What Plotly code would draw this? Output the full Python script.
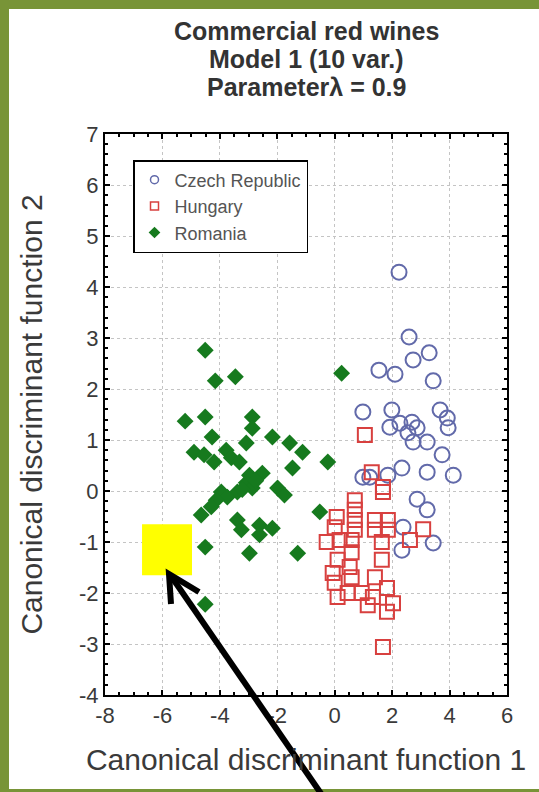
import plotly.graph_objects as go

# ---------------- data ----------------
czech_x = [2.24, 2.59, 2.73, 3.29, 1.54, 2.10, 3.43, 0.98, 1.99, 3.67, 3.92, 1.92, 2.27, 2.69,
           3.95, 2.55, 2.87, 2.73, 3.22, 3.74, 2.34, 3.22, 4.13, 1.85, 1.22, 0.98, 2.87, 3.22,
           2.38, 3.43, 2.34]
czech_y = [4.29, 3.02, 2.57, 2.71, 2.37, 2.29, 2.16, 1.55, 1.59, 1.59, 1.43, 1.25, 1.33, 1.35,
           1.24, 1.14, 1.24, 0.96, 0.96, 0.71, 0.45, 0.37, 0.31, 0.31, 0.27, 0.27, -0.16, -0.37,
           -0.71, -1.02, -1.16]

hungary_x = [1.05, 1.29, 1.68, 1.68, 0.70, 0.70, 0.07, 1.40, 1.85, 0.70, 0.00, 1.40, 1.85, 0.70,
             3.08, 2.62, -0.28, 0.17, 0.59, 1.64, 0.59, 0.10, 1.64, 0.52, -0.07, 0.59, 1.40, 0.00,
             1.82, 0.10, 0.45, 0.94, 1.33, 2.03, 1.15, 1.82, 1.68]
hungary_y = [1.10, 0.37, 0.08, -0.02, -0.18, -0.37, -0.51, -0.57, -0.57, -0.57, -0.71, -0.76, -0.76, -0.76,
             -0.75, -0.96, -1.00, -0.96, -0.96, -1.00, -1.20, -1.35, -1.35, -1.49, -1.61, -1.69, -1.69, -1.80,
             -1.90, -2.08, -2.00, -2.00, -2.08, -2.20, -2.24, -2.37, -3.06]

romania_x = [-4.51, -4.16, -3.46, 0.24, -5.21, -4.51, -2.87, -2.87, -4.27, -2.17, -3.08, -1.57, -1.12,
             -4.90, -4.55, -3.78, -4.20, -3.60, -3.32, -0.24, -1.47, -2.97, -2.52, -3.08, -2.87, -1.99,
             -1.75, -3.39, -3.95, -3.74, -4.13, -4.30, -0.52, -4.65, -3.39, -2.62, -3.25, -2.17, -2.62,
             -4.51, -2.97, -1.29, -4.51, -3.22, -2.75]
romania_y = [2.76, 2.16, 2.24, 2.31, 1.37, 1.45, 1.45, 1.23, 1.06, 1.06, 0.94, 0.94, 0.76,
             0.76, 0.71, 0.80, 0.57, 0.65, 0.57, 0.57, 0.45, 0.31, 0.35, 0.16, 0.06, 0.06,
             -0.08, -0.02, -0.02, -0.12, -0.18, -0.31, -0.41, -0.47, -0.57, -0.67, -0.76, -0.73, -0.86,
             -1.10, -1.22, -1.22, -2.22, 0.03, 0.20]

group_names = ["Czech Republic", "Hungary", "Romania"]
x_ticks = [-8, -6, -4, -2, 0, 2, 4, 6]
y_ticks = [-4, -3, -2, -1, 0, 1, 2, 3, 4, 5, 6, 7]

title_lines = ["Commercial red wines", "Model 1 (10 var.)", "Parameterλ = 0.9"]
x_title = "Canonical discriminant function 1"
y_title = "Canonical discriminant function 2"

# ---------------- style ----------------
BLUE = "#626aaa"
RED = "#d8403f"
GREEN = "#167a1e"
OLIVE = "#789437"
TXT = "#3a3a3a"
FONT = "Liberation Sans, Arial"

W, H = 539, 792
L, R, T, B = 105, 32, 134, 97
pw, ph = W - L - R, H - T - B


def px(xp):
    return (xp - L) / pw


def py(yp):
    return (H - B - yp) / ph


fig = go.Figure()

fig.add_trace(go.Scatter(x=czech_x, y=czech_y, mode="markers", showlegend=False,
                         marker=dict(symbol="circle-open", size=15, color=BLUE, line=dict(width=2))))
fig.add_trace(go.Scatter(x=hungary_x, y=hungary_y, mode="markers", showlegend=False,
                         marker=dict(symbol="square-open", size=14, color=RED, line=dict(width=2))))
fig.add_trace(go.Scatter(x=romania_x, y=romania_y, mode="markers", showlegend=False,
                         marker=dict(symbol="diamond", size=13, color=GREEN)))

# legend-only entries with small symbols
fig.add_trace(go.Scatter(x=[None], y=[None], mode="markers", name=group_names[0],
                         marker=dict(symbol="circle-open", size=8, color=BLUE, line=dict(width=1.5))))
fig.add_trace(go.Scatter(x=[None], y=[None], mode="markers", name=group_names[1],
                         marker=dict(symbol="square-open", size=8, color=RED, line=dict(width=1.5))))
fig.add_trace(go.Scatter(x=[None], y=[None], mode="markers", name=group_names[2],
                         marker=dict(symbol="diamond", size=9, color=GREEN)))

axis_common = dict(
    showline=True, linecolor="black", linewidth=2, mirror="allticks",
    ticks="inside", ticklen=5, tickcolor="black", tickwidth=1.5,
    showgrid=True, gridcolor="#c4c4c4", griddash="dot", gridwidth=1,
    zeroline=False, tickfont=dict(family=FONT, size=22, color=TXT),
)

fig.update_xaxes(range=[-8, 6], tickvals=x_ticks, ticktext=[str(v) for v in x_ticks],
                 minor=dict(dtick=0.5, ticks="inside", ticklen=3, tickcolor="black", showgrid=False),
                 title=dict(text=x_title, font=dict(family=FONT, size=30, color=TXT), standoff=22),
                 **axis_common)
fig.update_yaxes(range=[-4, 7], tickvals=y_ticks, ticktext=[str(v) for v in y_ticks],
                 minor=dict(dtick=0.2, ticks="inside", ticklen=3, tickcolor="black", showgrid=False),
                 title=dict(text=y_title, font=dict(family=FONT, size=30, color=TXT), standoff=28),
                 **axis_common)

shapes = [
    # white panel over olive border
    dict(type="rect", xref="paper", yref="paper", layer="below",
         x0=px(9), x1=px(545), y0=py(789), y1=py(9),
         fillcolor="white", line=dict(width=0)),
    # yellow square highlight
    dict(type="rect", xref="x", yref="y", layer="above",
         x0=-6.71, x1=-4.97, y0=-1.65, y1=-0.65,
         fillcolor="#ffff00", line=dict(width=0)),
    # arrow shaft
    dict(type="line", xref="paper", yref="paper", layer="above",
         x0=px(322), y0=py(795), x1=px(171), y1=py(576),
         line=dict(color="black", width=6)),
    # arrow head (open chevron)
    dict(type="path", xref="paper", yref="paper", layer="above",
         path=f"M {px(171)} {py(604)} L {px(169)} {py(574)} L {px(199)} {py(592)}",
         line=dict(color="black", width=6)),
]

annotations = []
for i, line in enumerate(title_lines):
    annotations.append(dict(text=f"<b>{line}</b>", xref="paper", yref="paper",
                            x=0.5, y=py(31 + 28 * i), xanchor="center", yanchor="middle",
                            showarrow=False,
                            font=dict(family=FONT, size=25, color="#333333")))

fig.update_layout(
    width=W, height=H,
    margin=dict(l=L, r=R, t=T, b=B),
    paper_bgcolor=OLIVE, plot_bgcolor="white",
    shapes=shapes, annotations=annotations,
    legend=dict(x=px(133), y=py(160), xanchor="left", yanchor="top",
                bgcolor="white", bordercolor="black", borderwidth=1.5,
                font=dict(family=FONT, size=18, color="#555555"),
                itemwidth=30, tracegroupgap=0),
    font=dict(family=FONT),
)

fig.write_html("out.html", config={"displayModeBar": False},
               post_script="document.body.style.margin='0';document.body.style.padding='0';")
